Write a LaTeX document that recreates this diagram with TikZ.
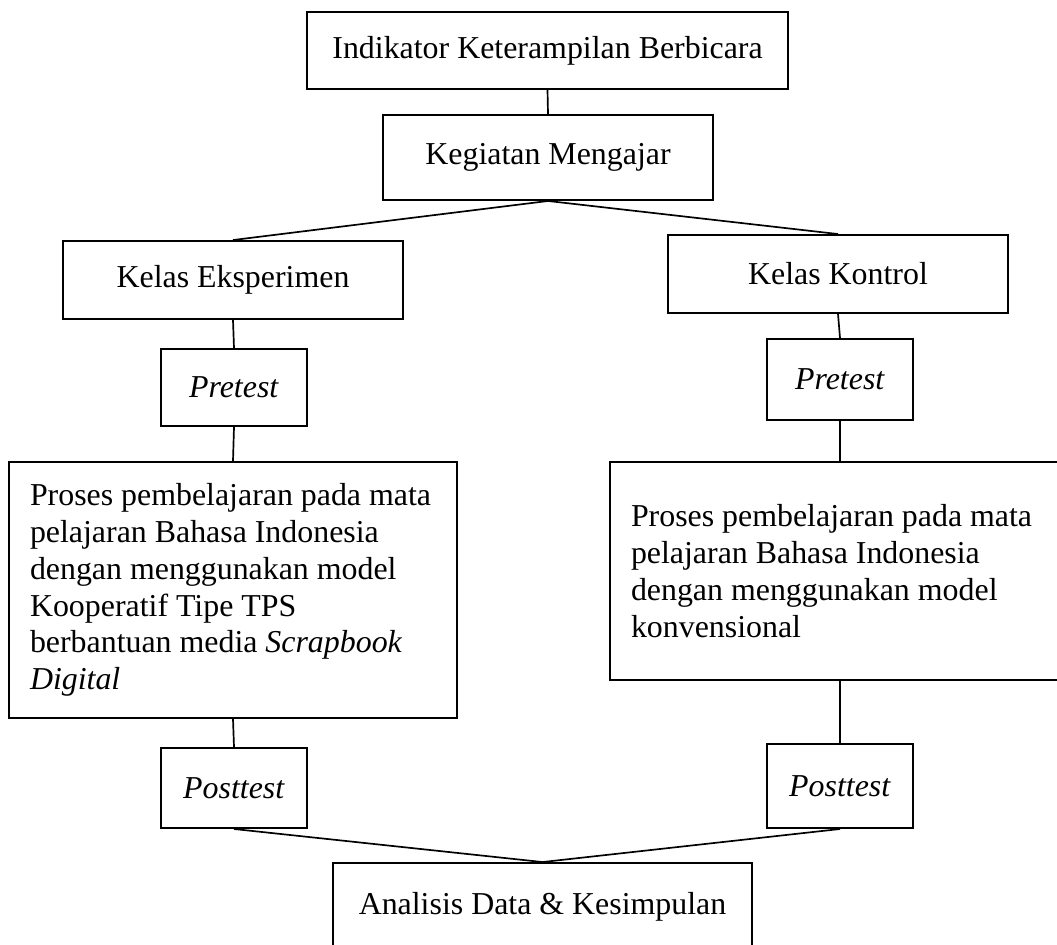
\documentclass[tikz,border=0pt]{standalone}
\usepackage{fontspec}
\setmainfont{Liberation Serif}
\newlength{\px}
\setlength{\px}{0.414pt}
\tikzset{
	kotak/.style={draw,line width=0.8pt,inner sep=0pt,align=center,font=\fontsize{13.2}{15.2}\selectfont},
	garis/.style={line width=0.7pt},
}
\newcommand{\mybox}[6]{\node[kotak,minimum width=#4\px,minimum height=#5\px,#6] (#1) at (#2) {#3};}
\newcommand{\myline}[2]{\draw[garis] (#1) -- (#2);}

\begin{document}
\begin{tikzpicture}[x=0.414pt,y=-0.414pt]
    \useasboundingbox (0,0) rectangle (1057,944);
    % top of the flow
    \mybox{ind}{547.5,50.5}{Indikator Keterampilan Berbicara}{481}{77}{}
    \mybox{keg}{548,157.5}{Kegiatan Mengajar}{330}{85}{}
    
    % two classes
    \mybox{eks}{233,280}{Kelas Eksperimen}{340}{78}{}
    \mybox{kon}{838,274}{Kelas Kontrol}{340}{78}{}
    \mybox{pre1}{234,387.5}{\textit{Pretest}}{146}{77}{}
    \mybox{pre2}{840,379.5}{\textit{Pretest}}{146}{81}{}
    \mybox{pro1}{233,590}{Proses pembelajaran pada mata\\pelajaran Bahasa Indonesia\\dengan menggunakan model\\Kooperatif Tipe TPS\\berbantuan media \textit{Scrapbook}\\\textit{Digital}}{448}{256}{align=flush left,text width=406\px}
    \mybox{pro2}{834,571}{Proses pembelajaran pada mata\\pelajaran Bahasa Indonesia\\dengan menggunakan model\\konvensional}{448}{218}{align=flush left,text width=406\px}
    \mybox{post1}{234,788}{\textit{Posttest}}{146}{80}{}
    \mybox{post2}{840,786}{\textit{Posttest}}{146}{84}{}
    
    \mybox{ana}{542.5,907}{Analisis Data \& Kesimpulan}{419}{88}{}
    
    %
    \myline{ind.south}{keg.north}
    \myline{keg.south}{eks.north}
    \myline{keg.south}{kon.north}
    \myline{eks.south}{pre1.north}
    \myline{kon.south}{pre2.north}
    \myline{pre1.south}{pro1.north}
    \myline{pre2.south}{pre2.south |- pro2.north}
    \myline{pro1.south}{post1.north}
    \myline{post2.north |- pro2.south}{post2.north}
    \myline{post1.south}{ana.north}
    \myline{post2.south}{ana.north}
\end{tikzpicture}
\end{document}
